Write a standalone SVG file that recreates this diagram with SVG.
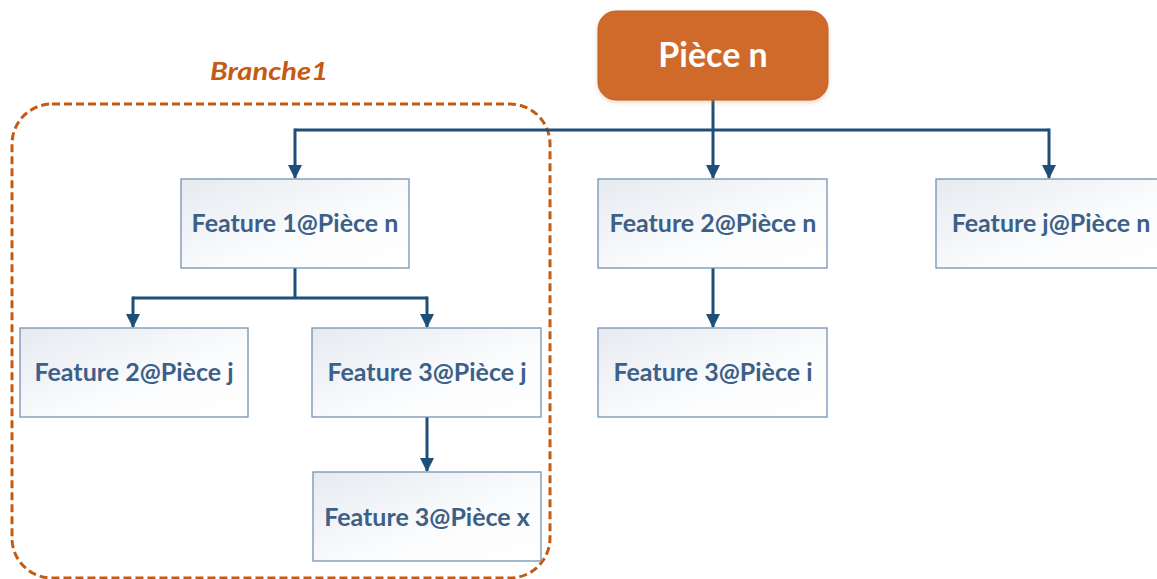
<svg xmlns="http://www.w3.org/2000/svg" width="1157" height="579" viewBox="0 0 1157 579">
<defs>
<linearGradient id="g" x1="0" y1="0" x2="1" y2="1">
<stop offset="0" stop-color="#E6EAF0"/>
<stop offset="0.6" stop-color="#FBFCFD"/>
<stop offset="1" stop-color="#FFFFFF"/>
</linearGradient>
<filter id="sh" x="-10%" y="-10%" width="120%" height="130%">
<feDropShadow dx="0" dy="2" stdDeviation="2" flood-color="#D0894F" flood-opacity="0.35"/>
</filter>
<marker id="ah" markerWidth="14" markerHeight="14" refX="13" refY="7" orient="auto" markerUnits="userSpaceOnUse" viewBox="0 0 14 14">
<path d="M0,0 L14,7 L0,14 Z" fill="#1F4E79"/>
</marker>
</defs>
<style>
.box{fill:url(#g);stroke:#7393B3;stroke-width:1.3}
.lbl{font-family:Lato,"Open Sans","Liberation Sans",sans-serif;font-weight:bold;font-size:25px;fill:#3C6088;text-anchor:middle}
.con{fill:none;stroke:#1F4E79;stroke-width:3}
</style>
<rect width="1157" height="579" fill="#FFFFFF"/>
<g id="branche1">
<rect x="12" y="104" width="538" height="474" rx="40" fill="none" stroke="#C55A11" stroke-width="3" stroke-dasharray="8,4"/>
<text x="269" y="80" font-family="Lato,'Open Sans','Liberation Sans',sans-serif" font-weight="bold" font-style="italic" font-size="25" fill="#C55A11" text-anchor="middle" textLength="118" lengthAdjust="spacingAndGlyphs">Branche1</text>
</g>
<g id="connectors">
<path class="con" d="M713,100 V130"/>
<path class="con" d="M295,130 H1049"/>
<path class="con" d="M295,128.5 V178" marker-end="url(#ah)"/>
<path class="con" d="M713,130 V178" marker-end="url(#ah)"/>
<path class="con" d="M1049,128.5 V178" marker-end="url(#ah)"/>
<path class="con" d="M295,268 V298"/>
<path class="con" d="M133,298 H427"/>
<path class="con" d="M427,296.5 V327" marker-end="url(#ah)"/>
<path class="con" d="M133,296.5 V327" marker-end="url(#ah)"/>
<path class="con" d="M713,268 V327" marker-end="url(#ah)"/>
<path class="con" d="M427,417 V471" marker-end="url(#ah)"/>
</g>
<g id="piece-n">
<rect x="598" y="11" width="230" height="89" rx="18" fill="#CF6B2C" stroke="#C0601F" stroke-width="1" filter="url(#sh)"/>
<text x="713" y="67" font-family="Lato,'Open Sans','Liberation Sans',sans-serif" font-weight="bold" font-size="34" fill="#FFFFFF" text-anchor="middle">Pièce n</text>
</g>
<g id="f1n"><rect class="box" x="181" y="179" width="228" height="89"/><text class="lbl" x="295" y="232">Feature 1@Pièce n</text></g>
<g id="f2n"><rect class="box" x="598" y="179" width="229" height="89"/><text class="lbl" x="713" y="232">Feature 2@Pièce n</text></g>
<g id="fjn"><rect class="box" x="936" y="179" width="230" height="89"/><text class="lbl" x="1051" y="232">Feature j@Pièce n</text></g>
<g id="f2j"><rect class="box" x="20" y="328" width="228" height="89"/><text class="lbl" x="134" y="381">Feature 2@Pièce j</text></g>
<g id="f3j"><rect class="box" x="312" y="328" width="229" height="89"/><text class="lbl" x="427" y="381">Feature 3@Pièce j</text></g>
<g id="f3i"><rect class="box" x="598" y="328" width="229" height="89"/><text class="lbl" x="713" y="381">Feature 3@Pièce i</text></g>
<g id="f3x"><rect class="box" x="313" y="472" width="228" height="89"/><text class="lbl" x="427" y="526">Feature 3@Pièce x</text></g>
</svg>
